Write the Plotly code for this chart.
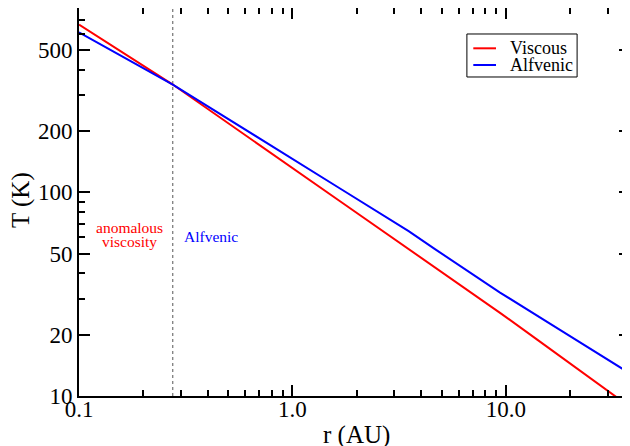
import numpy as np
import plotly.graph_objects as go

# Data (log-log)
r_viscous = [0.1, 0.275, 1.67, 3.62, 9.38, 14.0, 32.4, 38.1]
T_viscous = [665, 338, 90.4, 51.4, 25.6, 18.9, 10.0, 8.84]

r_alfvenic = [0.1, 0.275, 1.67, 2.57, 3.5, 4.65, 6.78, 9.38, 17.9, 38.1]
T_alfvenic = [610, 338, 104.4, 78.9, 64.5, 52.6, 40.5, 32.2, 21.1, 12.9]

r_boundary = 0.275

x_tickvals = [0.1, 1, 10]
x_ticktext = ["0.1", "1.0", "10.0"]
x_minor = [v * m for v in (0.1, 1, 10) for m in range(2, 10) if v * m < 40]
y_tickvals = [10, 20, 50, 100, 200, 500]
y_ticktext = ["10", "20", "50", "100", "200", "500"]
y_minor = [30, 40, 60, 70, 80, 90, 300, 400, 600, 700, 800]

XMIN, XMAX = 0.1, 38.1
YMIN, YMAX = 10, 803

SERIF = "Liberation Serif"

fig = go.Figure()
fig.add_trace(go.Scatter(x=[r_boundary, r_boundary], y=[YMIN, YMAX], mode="lines",
                         line=dict(color="#555555", width=1, dash="dot"),
                         showlegend=False, hoverinfo="skip"))
fig.add_trace(go.Scatter(x=r_viscous, y=T_viscous, mode="lines", name="Viscous",
                         line=dict(color="#ff0000", width=2), showlegend=False))
fig.add_trace(go.Scatter(x=r_alfvenic, y=T_alfvenic, mode="lines", name="Alfvenic",
                         line=dict(color="#0000ff", width=2), showlegend=False))

axis_common = dict(
    type="log", showgrid=False, zeroline=False,
    showline=True, linecolor="black", linewidth=2, mirror="allticks",
    ticks="inside", ticklen=11, tickwidth=1.5, tickcolor="black",
    tickfont=dict(family=SERIF, size=23, color="black"),
    tickmode="array",
)

fig.update_xaxes(**axis_common, range=[np.log10(XMIN), np.log10(XMAX)],
                 tickvals=x_tickvals, ticktext=x_ticktext, ticklabelstandoff=-9,
                 minor=dict(tickmode="array", tickvals=x_minor, ticks="inside",
                            ticklen=6, tickwidth=1.5, tickcolor="black"))
fig.update_yaxes(**axis_common, range=[np.log10(YMIN), np.log10(YMAX)],
                 tickvals=y_tickvals, ticktext=y_ticktext,
                 minor=dict(tickmode="array", tickvals=y_minor, ticks="inside",
                            ticklen=6, tickwidth=1.5, tickcolor="black"))

title_font = dict(family=SERIF, size=25, color="black")
fig.add_annotation(xref="paper", yref="paper", x=0.5045, y=-0.1005, text="r (AU)",
                   showarrow=False, xanchor="center", yanchor="middle", font=title_font)
fig.add_annotation(xref="paper", yref="paper", x=-0.1053, y=0.505, text="T (K)",
                   showarrow=False, xanchor="center", yanchor="middle", textangle=-90,
                   font=title_font)

# Legend drawn in paper coordinates
legend_items = [("Viscous", "#ff0000", 0.8961), ("Alfvenic", "#0000ff", 0.8531)]
fig.add_shape(type="rect", xref="paper", yref="paper", x0=0.704, x1=0.904, y0=0.8222, y1=0.933,
              line=dict(color="black", width=1), fillcolor="white", layer="above")
for name, color, yy in legend_items:
    fig.add_shape(type="line", xref="paper", yref="paper", x0=0.7156, x1=0.7568, y0=yy, y1=yy,
                  line=dict(color=color, width=2), layer="above")
    fig.add_annotation(xref="paper", yref="paper", x=0.779, y=yy, text=name, showarrow=False,
                       xanchor="left", yanchor="middle",
                       font=dict(family=SERIF, size=18, color="black"))

note_font = dict(family=SERIF, size=15.5)
fig.add_annotation(x=np.log10(0.173), y=np.log10(67.0), text="anomalous",
                   showarrow=False, font=dict(**note_font, color="#ff0000"),
                   xanchor="center", yanchor="middle")
fig.add_annotation(x=np.log10(0.173), y=np.log10(57.3), text="viscosity",
                   showarrow=False, font=dict(**note_font, color="#ff0000"),
                   xanchor="center", yanchor="middle")
fig.add_annotation(x=np.log10(0.415), y=np.log10(60.4), text="Alfvenic",
                   showarrow=False, font=dict(**note_font, color="#0000ff"),
                   xanchor="center", yanchor="middle")

fig.update_layout(
    width=622, height=438,
    margin=dict(l=71, r=0, t=0, b=50, autoexpand=False),
    paper_bgcolor="white", plot_bgcolor="white",
    showlegend=False,
)

fig.write_html("out.html")
